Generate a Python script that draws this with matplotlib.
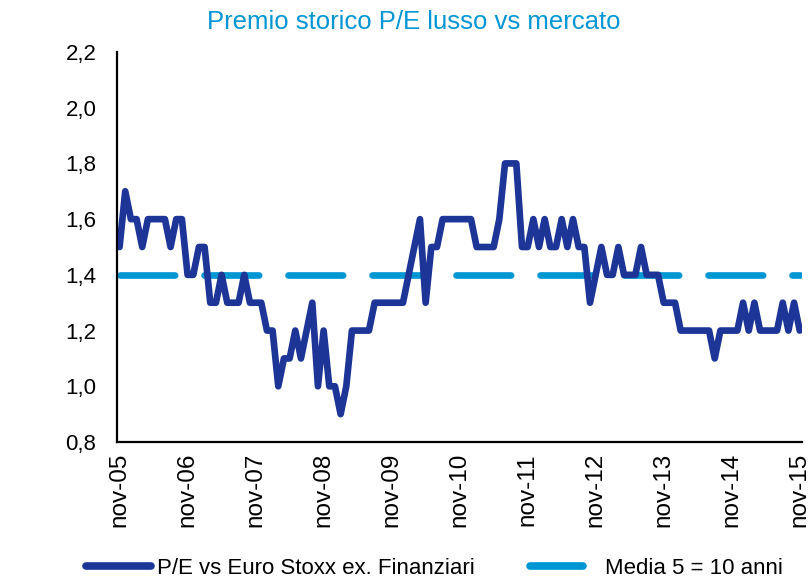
import matplotlib.pyplot as plt
from matplotlib.lines import Line2D

plt.rcParams['font.family'] = ['Liberation Sans', 'DejaVu Sans']

# Serie mensile nov-05 .. nov-15 (P/E relativo)
pe_relativo = [
    1.5, 1.7, 1.6, 1.6, 1.5, 1.6, 1.6, 1.6, 1.6, 1.5, 1.6, 1.6,
    1.4, 1.4, 1.5, 1.5, 1.3, 1.3, 1.4, 1.3, 1.3, 1.3, 1.4, 1.3,
    1.3, 1.3, 1.2, 1.2, 1.0, 1.1, 1.1, 1.2, 1.1, 1.2, 1.3, 1.0,
    1.2, 1.0, 1.0, 0.9, 1.0, 1.2, 1.2, 1.2, 1.2, 1.3, 1.3, 1.3,
    1.3, 1.3, 1.3, 1.4, 1.5, 1.6, 1.3, 1.5, 1.5, 1.6, 1.6, 1.6,
    1.6, 1.6, 1.6, 1.5, 1.5, 1.5, 1.5, 1.6, 1.8, 1.8, 1.8, 1.5,
    1.5, 1.6, 1.5, 1.6, 1.5, 1.5, 1.6, 1.5, 1.6, 1.5, 1.5, 1.3,
    1.4, 1.5, 1.4, 1.4, 1.5, 1.4, 1.4, 1.4, 1.5, 1.4, 1.4, 1.4,
    1.3, 1.3, 1.3, 1.2, 1.2, 1.2, 1.2, 1.2, 1.2, 1.1, 1.2, 1.2,
    1.2, 1.2, 1.3, 1.2, 1.3, 1.2, 1.2, 1.2, 1.2, 1.3, 1.2, 1.3,
    1.2,
]
media = 1.4
etichette_x = ['nov-05', 'nov-06', 'nov-07', 'nov-08', 'nov-09', 'nov-10',
               'nov-11', 'nov-12', 'nov-13', 'nov-14', 'nov-15']
tick_y = [0.8, 1.0, 1.2, 1.4, 1.6, 1.8, 2.0, 2.2]

blu_scuro = '#1c3596'
azzurro = '#0096d3'

fig = plt.figure(figsize=(8.09, 5.81), dpi=100)
ax = fig.add_axes([117.3 / 809, 1 - 442 / 581, (802 - 117.3) / 809, (442 - 52) / 581])

mesi = list(range(len(pe_relativo)))
ax.plot(mesi, [media] * len(mesi), color=azzurro, lw=4.8,
        dashes=(8.2, 4.4), dash_capstyle='round')
ax.plot(mesi, pe_relativo, color=blu_scuro, lw=4.8,
        solid_joinstyle='round', solid_capstyle='round')

ax.set_xlim(-0.4, 120.4)
ax.set_ylim(0.8, 2.2)
ax.set_yticks(tick_y)
ax.set_yticklabels([f'{v:.1f}'.replace('.', ',') for v in tick_y], fontsize=16)
ax.set_xticks(range(0, 121, 12))
ax.set_xticklabels(etichette_x, rotation=90, fontsize=17.5)
ax.tick_params(axis='x', length=0, pad=8)
ax.tick_params(axis='y', length=0, pad=15)

for lato in ['top', 'right']:
    ax.spines[lato].set_visible(False)
for lato in ['left', 'bottom']:
    ax.spines[lato].set_linewidth(1.6)

fig.text(414 / 809, 1 - 29 / 581, 'Premio storico P/E lusso vs mercato',
         color=azzurro, fontsize=18.5, ha='center', va='baseline')

# Legenda in basso
h1 = Line2D([], [], color=blu_scuro, lw=5.5, solid_capstyle='round')
h2 = Line2D([], [], color=azzurro, lw=5.5, solid_capstyle='round')
fig.legend([h1], ['P/E vs Euro Stoxx ex. Finanziari'], loc='center left',
           bbox_to_anchor=(86 / 809, 1 - 568 / 581), frameon=False,
           borderpad=0, borderaxespad=0,
           fontsize=16, handlelength=2.93, handletextpad=0.27)
fig.legend([h2], ['Media 5 = 10 anni'], loc='center left',
           bbox_to_anchor=(530 / 809, 1 - 568 / 581), frameon=False,
           borderpad=0, borderaxespad=0,
           fontsize=16, handlelength=2.39, handletextpad=1.0)

fig.savefig('out.png', dpi=100)
